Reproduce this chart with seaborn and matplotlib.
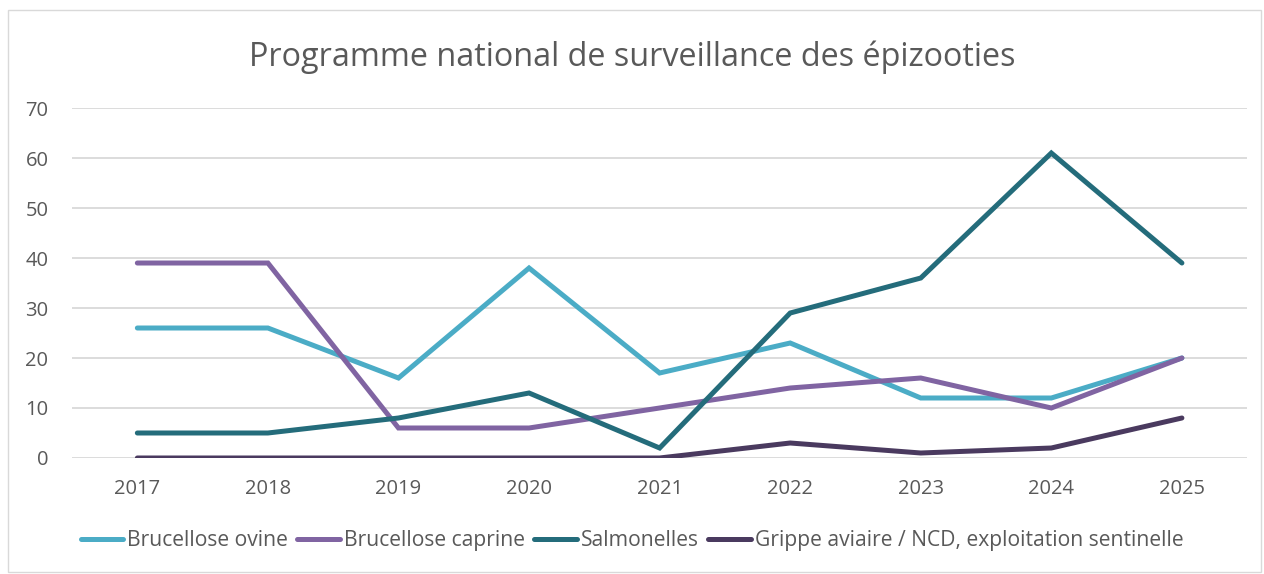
import numpy as np
import pandas as pd
import matplotlib.pyplot as plt
import seaborn as sns
from matplotlib.patches import Rectangle

years = [2017, 2018, 2019, 2020, 2021, 2022, 2023, 2024, 2025]
series_names = ['Brucellose ovine', 'Brucellose caprine', 'Salmonelles',
                'Grippe aviaire / NCD, exploitation sentinelle']
ovine = [26, 26, 16, 38, 17, 23, 12, 12, 20]
caprine = [39, 39, 6, 6, 10, 14, 16, 10, 20]
salmonelles = [5, 5, 8, 13, 2, 29, 36, 61, 39]
grippe = [0, 0, 0, 0, 0, 3, 1, 2, 8]
colors = ['#4BACC6', '#8064A2', '#246C7B', '#4A3A5F']

#long format for seaborn
df = pd.DataFrame({
    'Annee': years * 4,
    'Valeur': ovine + caprine + salmonelles + grippe,
    'Serie': np.repeat(series_names, len(years)),
})

sns.set_style('white')
plt.rcParams['font.family'] = ['Open Sans', 'DejaVu Sans']
txt = '#595959'

fig = plt.figure(figsize=(12.64, 5.74), dpi=100)
ax = fig.add_axes([0.057, 0.2021, 0.9297, 0.6097])

sns.lineplot(data=df, x='Annee', y='Valeur', hue='Serie', hue_order=series_names,
             palette=colors, linewidth=3.6, ax=ax, legend=False,
             solid_capstyle='round', solid_joinstyle='miter')

ax.set_xlim(2016.5, 2025.5)
ax.set_ylim(0, 70)
ax.set_yticks(range(0, 71, 10))
ax.set_xticks(years)
ax.set_xticklabels([str(y) for y in years])
ax.yaxis.grid(True, color='#D9D9D9', linewidth=1.3)
ax.set_axisbelow(True)
for s in ax.spines.values():
    s.set_visible(False)
ax.tick_params(axis='both', length=0, labelsize=14.5, labelcolor=txt)
ax.tick_params(axis='y', pad=17)
ax.tick_params(axis='x', pad=15)
ax.set_xlabel('')
ax.set_ylabel('')

fig.suptitle('Programme national de surveillance des épizooties', y=0.93,
             fontsize=23.3, color=txt)

handles = [plt.Line2D([], [], color=c, linewidth=3.6, solid_capstyle='round') for c in colors]
fig.legend(handles, series_names, loc='center', bbox_to_anchor=(0.5, 0.058), ncol=4,
           frameon=False, fontsize=15.2, labelcolor=txt, handlelength=2.0,
           handletextpad=0.2, columnspacing=0.45)

fig.patches.append(Rectangle((0.006, 0.004), 0.992, 0.979, transform=fig.transFigure,
                             fill=False, edgecolor='#D9D9D9', linewidth=1))

plt.savefig('out.png', dpi=100)
